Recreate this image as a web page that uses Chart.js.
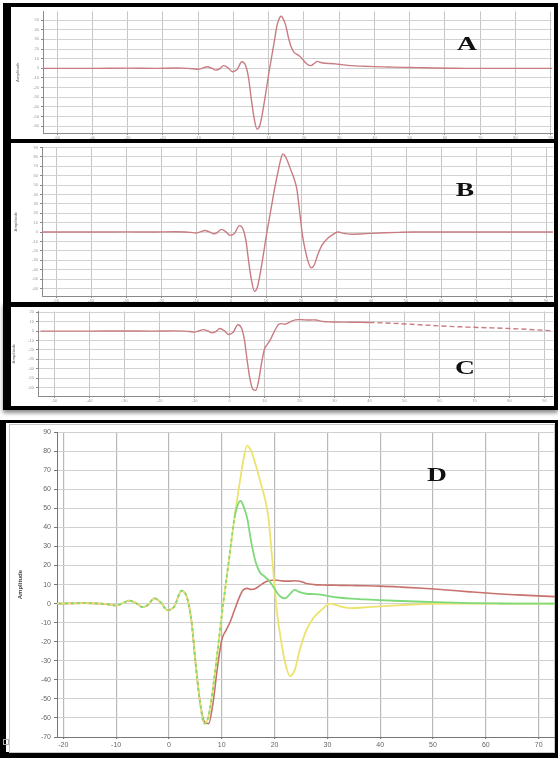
<!DOCTYPE html>
<html>
<head>
<meta charset="utf-8">
<script src="https://cdn.jsdelivr.net/npm/chart.js@4.4.0/dist/chart.umd.min.js"></script>
<style>
  html, body { margin: 0; padding: 0; background: #fff; }
  body { width: 558px; height: 758px; position: relative; overflow: hidden; font-family: "DejaVu Sans", sans-serif; }
  .frame { position: absolute; box-sizing: border-box; border-style: solid; border-color: #000; }
  canvas { position: absolute; }
  .letter {
    position: absolute; font-family: "Liberation Serif", "DejaVu Serif", serif; font-weight: bold;
    font-size: 19px; line-height: 19px; color: #111; transform: translate(-50%, 0) scaleX(1.45);
  }
</style>
</head>
<body>

<!-- cadres noirs -->
<div class="frame" style="left:3px;top:3px;width:555px;height:140px;border-width:4px 4px 4px 8px;"></div>
<div class="frame" style="left:3px;top:139px;width:555px;height:168px;border-width:4px 4px 5px 8px;"></div>
<div class="frame" style="left:3px;top:302px;width:555px;height:108px;border-width:5px 4px 4px 8px;box-shadow:0 3px 4px rgba(0,0,0,0.45);"></div>
<div class="frame" style="left:0px;top:420px;width:558px;height:338px;border-width:3px 3px 6px 6px;"></div>
<div class="frame" style="left:9px;top:424px;width:546px;height:329px;border-width:1px;border-color:#c8c8c8;"></div>
<div class="frame" style="left:3px;top:739px;width:6px;height:6px;border-width:1px;border-color:#aaa;"></div>

<canvas id="chartA" width="542" height="132" style="left:11px;top:7px;"></canvas>
<canvas id="chartB" width="542" height="159" style="left:11px;top:143px;"></canvas>
<canvas id="chartC" width="542" height="99" style="left:11px;top:307px;"></canvas>
<canvas id="chartD" width="545" height="327" style="left:10px;top:425px;"></canvas>

<div class="letter" style="left:467px;top:34px;">A</div>
<div class="letter" style="left:465px;top:180px;">B</div>
<div class="letter" style="left:465px;top:358px;">C</div>
<div class="letter" style="left:437px;top:465px;">D</div>

<script>
// temps commun (axe x)
const timeUs = [-54, -40, -30, -22, -16, -13, -11.5, -10, -8.8, -7.5, -6.2, -5, -3.9, -2.8, -1.5, -0.3,
  1.0, 2.4, 3.5, 4.3, 5.0, 5.8, 6.7, 7.5, 8.3, 9.2, 10.0, 10.8, 11.6, 12.4, 13.2, 13.6, 14.0, 14.8,
  15.6, 16.4, 17.2, 18.0, 18.8, 19.6, 20.4, 21.2, 22.0, 22.9, 23.8, 24.8, 26.0, 27.5, 29.0, 30.5,
  32.5, 34.5, 37, 40, 44, 48, 52, 57, 62, 66, 72, 80, 92];

// signal A (vert dans D)
const signalA = [0, 0, 0.2, 0, 0.3, 0, -0.4, -1, 0.2, 1.6, 0.2, -1.8, -0.5, 2.8, 0.5, -3.5,
  -1.5, 6.8, 2.5, -10, -30, -50, -63, -59, -45, -25, -6, 11, 28, 45, 53, 54, 52, 45,
  32, 22, 16.5, 14.5, 12.5, 9.5, 6, 3.5, 2.8, 5, 7.2, 6, 5.2, 5, 4.6, 3.8,
  3.1, 2.6, 2.2, 1.8, 1.4, 1, 0.7, 0.3, 0.1, 0, 0, 0, 0];

// signal B (jaune dans D)
const signalB = [0, 0, 0.2, 0, 0.3, 0, -0.4, -1, 0.2, 1.6, 0.2, -1.8, -0.5, 2.8, 0.5, -3.5,
  -1.5, 6.8, 2.5, -10, -30, -50, -63, -59, -45, -25, -6, 11, 28, 45, 60, 67, 74, 83,
  80, 73, 65, 57, 46, 22, -3, -19, -31, -38, -35, -24, -14, -7, -3, 0,
  -1.5, -2.4, -2, -1.4, -0.8, -0.3, 0, 0, 0, 0, 0, 0, 0];

// signal C (rouge dans D)
const signalC = [0, 0, 0.2, 0, 0.3, 0, -0.4, -1, 0.2, 1.6, 0.2, -1.8, -0.5, 2.8, 0.5, -3.5,
  -1.5, 6.8, 2.5, -10, -30, -50, -62, -63, -53, -33, -19, -14, -9.5, -3.5, 2.5, 5, 7, 8,
  7.5, 8, 9.5, 11, 12, 12.3, 12.3, 12, 11.8, 11.8, 12, 11.8, 10.6, 10, 9.8, 9.7,
  9.6, 9.5, 9.4, 9.2, 8.7, 8.1, 7.3, 6.2, 5.2, 4.6, 3.8, 2.8, 0.5];

function points(values) {
  return timeUs.map((t, i) => ({ x: t, y: values[i] }));
}

// graduations sur les multiples de 10 entre min et max
function tenTicks(scale) {
  const out = [];
  for (let v = Math.ceil(scale.min / 10) * 10; v <= scale.max + 1e-9; v += 10) {
    out.push({ value: v });
  }
  scale.ticks = out;
}

// petits panneaux A, B, C
function smallPanel(id, values, yMin, yMax, xMin, xMax, box, dashFrom) {
  new Chart(document.getElementById(id), {
    type: 'line',
    data: {
      datasets: [{
        data: points(values),
        borderColor: '#c97c82',
        borderWidth: 1.4,
        pointRadius: 0,
        cubicInterpolationMode: 'monotone',
        segment: {
          borderDash: ctx => (dashFrom !== null && ctx.p0.parsed.x >= dashFrom) ? [5, 3] : undefined
        }
      }]
    },
    options: {
      responsive: false,
      animation: false,
      devicePixelRatio: 1,
      layout: { padding: { top: box.padTop, right: 0, bottom: 0, left: 0 } },
      plugins: { legend: { display: false }, tooltip: { enabled: false } },
      scales: {
        x: {
          type: 'linear', min: xMin, max: xMax,
          afterFit: s => { s.height = box.xH; },
          afterBuildTicks: tenTicks,
          ticks: { autoSkip: false, maxRotation: 0, padding: 0, color: '#9a9a9a', font: { size: 4 } },
          grid: { color: '#c6c6c6', tickLength: 2, tickColor: '#888' },
          border: { color: '#8a8a8a' }
        },
        y: {
          min: yMin, max: yMax,
          afterFit: s => { s.width = box.yW; },
          afterBuildTicks: tenTicks,
          ticks: { autoSkip: false, padding: 2, color: '#9a9a9a', font: { size: 4 } },
          grid: { color: '#d2d2d2', tickLength: 2, tickColor: '#888' },
          border: { color: '#8a8a8a' },
          title: { display: true, text: 'Amplitude', color: '#888', font: { size: 4, weight: 'bold' }, padding: { top: box.titlePad, bottom: 0 } }
        }
      }
    }
  });
}

smallPanel('chartA', signalA, -67, 59, -54, 90.4, { padTop: 4, xH: 6, yW: 32, titlePad: 4.6 }, null);
smallPanel('chartB', signalB, -68, 90, -54, 92, { padTop: 2, xH: 6, yW: 31, titlePad: 2.6 }, null);
smallPanel('chartC', signalC, -69, 21, -54.7, 92.4, { padTop: 2, xH: 10, yW: 27, titlePad: 0 }, 38);

// panneau D : superposition des trois signaux
new Chart(document.getElementById('chartD'), {
  type: 'line',
  data: {
    datasets: [
      {
        label: 'A',
        data: points(signalA),
        borderColor: '#7fd97a',
        borderWidth: 1.8,
        pointRadius: 0,
        cubicInterpolationMode: 'monotone',
        segment: { borderDash: ctx => ctx.p0.parsed.x < 12.4 ? [3, 3] : undefined }
      },
      {
        label: 'B',
        data: points(signalB),
        borderColor: '#ece36c',
        borderWidth: 1.8,
        pointRadius: 0,
        cubicInterpolationMode: 'monotone'
      },
      {
        label: 'C',
        data: points(signalC),
        borderColor: '#c7726c',
        borderWidth: 1.6,
        pointRadius: 0,
        cubicInterpolationMode: 'monotone'
      }
    ]
  },
  options: {
    responsive: false,
    animation: false,
    devicePixelRatio: 1,
    layout: { padding: { top: 5, right: 0, bottom: 0, left: 0 } },
    plugins: { legend: { display: false }, tooltip: { enabled: false } },
    scales: {
      x: {
        type: 'linear', min: -21.2, max: 73.1,
        afterFit: s => { s.height = 15; },
        afterBuildTicks: tenTicks,
        ticks: { autoSkip: false, maxRotation: 0, padding: 2, color: '#666', font: { size: 7 } },
        grid: { color: '#b9b9b9', lineWidth: 1.2, tickLength: 2, tickColor: '#777' },
        border: { color: '#777' }
      },
      y: {
        min: -70, max: 90,
        afterFit: s => { s.width = 47; },
        afterBuildTicks: tenTicks,
        ticks: { autoSkip: false, padding: 3, color: '#666', font: { size: 7 } },
        grid: { color: '#d0d0d0', tickLength: 3, tickColor: '#777' },
        border: { color: '#777' },
        title: { display: true, text: 'Amplitude', color: '#444', font: { size: 6, weight: 'bold' }, padding: { top: 7, bottom: 0 } }
      }
    }
  }
});
</script>
</body>
</html>
